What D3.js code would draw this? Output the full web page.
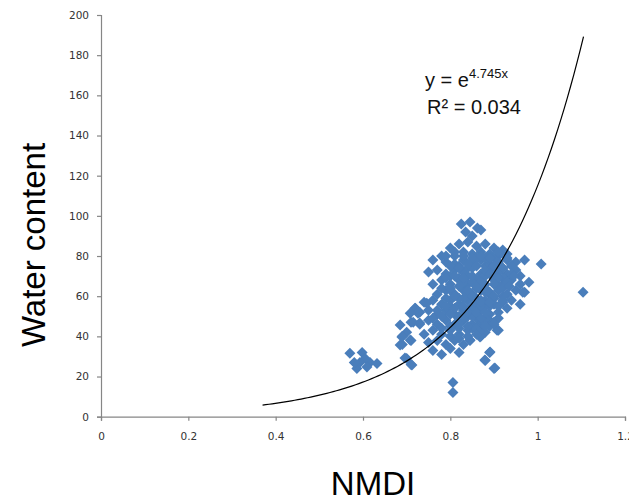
<!DOCTYPE html>
<html>
<head>
<meta charset="utf-8">
<script src="https://cdn.jsdelivr.net/npm/d3@7"></script>
<style>
  body { margin: 0; background: #fff; }
  svg { display: block; }
  .tick text { font-family: "DejaVu Sans", Verdana, sans-serif; font-size: 10.5px; fill: #333; }
</style>
</head>
<body>
<div id="vis"></div>
<script>
// NMDI values (x) and water content (y)
const nmdi = [
  0.825, 0.845, 0.835, 0.862, 0.870, 0.850,
  0.800, 0.820, 0.840, 0.860, 0.880, 0.900, 0.920, 0.830, 0.850, 0.870, 0.890, 0.910, 0.930, 0.780, 0.810,
  0.760, 0.790, 0.810, 0.830, 0.850, 0.870, 0.890, 0.910, 0.930, 0.950, 0.970, 0.940, 0.820, 0.880,
  0.750, 0.770, 0.790, 0.810, 0.830, 0.850, 0.870, 0.890, 0.910, 0.930, 0.950, 0.960, 0.840, 0.800, 0.900,
  0.760, 0.780, 0.800, 0.820, 0.840, 0.860, 0.880, 0.900, 0.920, 0.940, 0.960, 0.980, 0.870, 0.830, 0.910,
  0.770, 0.790, 0.810, 0.830, 0.850, 0.870, 0.890, 0.910, 0.930, 0.950, 0.970, 0.880, 0.840, 0.920,
  0.740, 0.760, 0.780, 0.800, 0.820, 0.840, 0.860, 0.880, 0.900, 0.920, 0.940, 0.960, 0.850,
  0.720, 0.730, 0.750, 0.770, 0.790, 0.810, 0.830, 0.850, 0.870, 0.890, 0.910, 0.930,
  0.710, 0.730, 0.750, 0.770, 0.790, 0.810, 0.830, 0.850, 0.870, 0.890, 0.860,
  0.700, 0.740, 0.760, 0.780, 0.800, 0.820, 0.840, 0.860, 0.880, 0.910,
  0.690, 0.710, 0.750, 0.770, 0.790, 0.810, 0.830, 0.845, 0.870,
  0.690, 0.760, 0.780, 0.800, 0.820, 0.890,
  0.700, 0.710, 0.880, 0.900, 0.806, 0.806,
  0.570, 0.598, 0.605, 0.586, 0.616, 0.632, 0.593, 0.609, 0.580,
  1.008, 1.104, 0.966, 0.907,
  0.719, 0.726, 0.708, 0.715, 0.730, 0.746, 0.685, 0.689, 0.685, 0.696, 0.712, 0.708,
  0.845, 0.868, 0.872, 0.879, 0.891, 0.902,
  0.860, 0.880, 0.900, 0.840, 0.820, 0.800, 0.860, 0.880, 0.900, 0.920, 0.820, 0.840, 0.860, 0.880,
  0.900, 0.920, 0.940, 0.800, 0.820, 0.860, 0.880, 0.900, 0.850, 0.870, 0.890, 0.910, 0.830, 0.850,
  0.790, 0.810, 0.830, 0.850, 0.870, 0.890, 0.910, 0.930, 0.800, 0.820, 0.840, 0.860, 0.880, 0.900,
  0.920, 0.940, 0.790, 0.810, 0.830, 0.850, 0.870, 0.890, 0.910, 0.930, 0.780, 0.800, 0.820, 0.840,
  0.860, 0.880, 0.900, 0.920, 0.790, 0.810, 0.830, 0.850, 0.870, 0.890, 0.770, 0.790, 0.810, 0.830,
  0.850, 0.870, 0.760, 0.780, 0.800, 0.820, 0.840, 0.860,
  0.820, 0.840, 0.860, 0.880, 0.900, 0.830, 0.850, 0.870, 0.890, 0.910, 0.800, 0.820, 0.840, 0.860,
  0.780, 0.800, 0.820, 0.840, 0.860, 0.880, 0.870, 0.890, 0.900, 0.920, 0.935, 0.945
];
const water = [
  96, 97, 92, 94, 93, 90,
  84, 86, 87, 85, 86, 84, 83, 82, 81, 82, 81, 80, 81, 80, 80,
  78, 77, 76, 78, 77, 78, 76, 77, 78, 77, 78, 75, 75, 75,
  72, 73, 71, 73, 72, 74, 71, 73, 72, 71, 73, 70, 70, 70, 70,
  66, 68, 66, 68, 66, 68, 66, 68, 66, 68, 66, 67, 69, 65, 65,
  61, 63, 61, 63, 61, 63, 61, 63, 61, 63, 62, 64, 60, 60,
  57, 58, 56, 58, 56, 58, 56, 58, 56, 57, 58, 56, 55,
  54, 52, 53, 51, 53, 51, 53, 51, 53, 51, 52, 54,
  47, 46, 48, 46, 48, 46, 48, 46, 47, 48, 49,
  42, 41, 43, 41, 43, 41, 43, 44, 42, 43,
  40, 38, 37, 38, 36, 38, 36, 38, 40,
  36, 33, 31, 34, 32, 32,
  29, 26, 28, 24, 17, 12,
  31.6, 32, 29, 24, 27, 26.5, 27, 24.7, 27,
  76, 62, 62, 43,
  54, 51.5, 51.5, 47, 46.6, 56.5, 45.6, 39.7, 35.7, 29.2, 25.7, 38.2,
  38.2, 39.7, 47.1, 28.2, 32.2, 24.2,
  79, 79, 79, 74, 69, 63, 64, 70, 75, 74, 59, 62, 59, 55,
  59, 69, 71, 55, 50, 52, 49, 47, 44, 43, 45, 49, 67, 67,
  80, 82, 80, 79, 80, 79, 82, 79, 75, 74, 76, 75, 73, 75,
  74, 71, 69, 70, 69, 70, 67, 71, 69, 67, 64, 64, 65, 63,
  65, 62, 66, 64, 59, 60, 59, 60, 58, 62, 53, 55, 54, 55,
  53, 55, 49, 50, 51, 49, 50, 51,
  44, 45, 44, 45, 46, 49, 50, 49, 55, 55, 40, 39, 40, 41,
  44, 45, 46, 52, 52, 52, 57, 57, 60, 58, 65, 70
];
const xTicks = [0, 0.2, 0.4, 0.6, 0.8, 1, 1.2];
const yTicks = [0, 20, 40, 60, 80, 100, 120, 140, 160, 180, 200];
const trendRange = [0.37, 1.105];
const trendCoef = 4.745;

const width = 629, height = 496;

const svg = d3.select("#vis").append("svg")
  .attr("width", width)
  .attr("height", height);

const x = d3.scaleLinear().domain([0, 1.2]).range([101, 625]);
const y = d3.scaleLinear().domain([0, 200]).range([416.7, 15]);

// axes
svg.append("g")
  .attr("transform", `translate(0,${y(0)})`)
  .call(d3.axisBottom(x).tickValues(xTicks).tickSize(4).tickPadding(12)
    .tickFormat(d => String(d)));
svg.append("g")
  .attr("transform", `translate(${x(0)},0)`)
  .call(d3.axisLeft(y).tickValues(yTicks).tickSize(4).tickPadding(8));
svg.selectAll(".domain, .tick line").attr("stroke", "#868686").attr("stroke-width", 1.2);

// points
const points = d3.range(nmdi.length).map(i => ({ x: nmdi[i], y: water[i] }));
svg.append("g")
  .selectAll("path")
  .data(points)
  .enter()
  .append("path")
    .attr("d", "M0,-5.5L5.5,0L0,5.5L-5.5,0Z")
    .attr("transform", d => `translate(${x(d.x)},${y(d.y)})`)
    .attr("fill", "#4a7ebb");

// exponential trend line
const trend = d3.range(0, 101).map(i => {
  const t = trendRange[0] + (trendRange[1] - trendRange[0]) * i / 100;
  return [t, Math.exp(trendCoef * t)];
});
svg.append("path")
  .datum(trend)
  .attr("fill", "none")
  .attr("stroke", "#000")
  .attr("stroke-width", 1.2)
  .attr("d", d3.line().x(d => x(d[0])).y(d => y(d[1])));

// equation
const eq = svg.append("text")
  .attr("x", 425).attr("y", 87)
  .style("font-family", "'Liberation Sans', Arial, sans-serif")
  .style("font-size", "20px")
  .attr("fill", "#111");
eq.append("tspan").text("y = e");
eq.append("tspan").attr("dy", -9).style("font-size", "13px").text("4.745x");
svg.append("text")
  .attr("x", 427).attr("y", 114)
  .style("font-family", "'Liberation Sans', Arial, sans-serif")
  .style("font-size", "20px")
  .attr("fill", "#111")
  .text("R² = 0.034");

// axis titles
svg.append("text")
  .attr("transform", "translate(45,245) rotate(-90)")
  .attr("text-anchor", "middle")
  .style("font-family", "'Liberation Sans', Arial, sans-serif")
  .style("font-size", "33px")
  .text("Water content");
svg.append("text")
  .attr("x", 373).attr("y", 495)
  .attr("text-anchor", "middle")
  .style("font-family", "'Liberation Sans', Arial, sans-serif")
  .style("font-size", "33px")
  .text("NMDI");
</script>
</body>
</html>
